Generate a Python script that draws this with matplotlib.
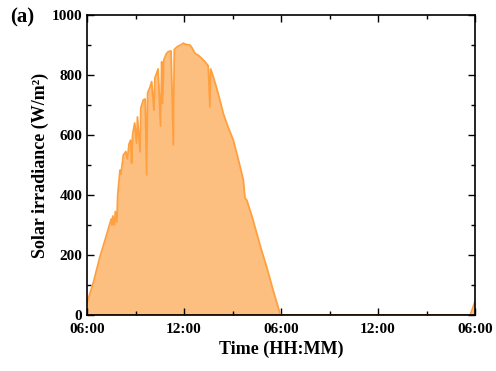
import matplotlib
matplotlib.use("Agg")
import matplotlib.pyplot as plt
from matplotlib.ticker import MultipleLocator

# Data (hours since midnight, irradiance in W/m2)
hours = [6.0, 6.4, 6.8, 7.2, 7.5, 7.55, 7.6, 7.7, 7.75, 7.85, 7.9, 8.04, 8.1, 8.25,
         8.4, 8.5, 8.6, 8.7, 8.76, 8.82, 8.95, 9.07, 9.12, 9.28, 9.33, 9.48, 9.6,
         9.69, 9.75, 9.9, 10.0, 10.14, 10.2, 10.4, 10.55, 10.62, 10.68, 10.75,
         10.9, 11.03, 11.2, 11.34, 11.4, 11.6, 11.8, 11.96, 12.1, 12.37, 12.5,
         12.68, 12.9, 13.1, 13.3, 13.5, 13.6, 13.65, 13.81, 14.0, 14.2, 14.43,
         14.7, 15.05, 15.4, 15.67, 15.77, 15.88, 16.2, 16.5, 16.8, 17.11, 17.5,
         17.94, 18.0, 29.7, 30.0]
irradiance = [40, 110, 194, 265, 320, 300, 330, 300, 345, 310, 400, 483, 470, 533,
              545, 520, 570, 583, 506, 600, 640, 573, 660, 544, 690, 717, 720,
              467, 740, 760, 778, 683, 790, 820, 630, 844, 706, 850,
              870, 878, 880, 567, 885, 895, 900, 906, 902, 900, 890,
              872, 865, 855, 844, 830, 694, 820, 794, 760, 720, 672,
              630, 583, 510, 450, 390, 383, 330, 272, 215, 161, 85,
              5, 0, 0, 45]

tick_hours = [6, 12, 18, 24, 30]
tick_labels = ['06:00', '12:00', '06:00', '12:00', '06:00']

plt.rcParams['font.family'] = ['Liberation Serif', 'DejaVu Serif']
plt.rcParams['font.weight'] = 'bold'

fig = plt.figure(figsize=(4.96, 3.71), dpi=100)
ax = fig.add_axes([0.1754, 0.1509, 0.7823, 0.8087])

ax.fill_between(hours, irradiance, 0, color='#FDBF80', linewidth=0)
ax.plot(hours, irradiance, color='#FFA040', linewidth=1.3)
ax.axhline(0, color='#C8651B', linewidth=1.2)

ax.set_xlim(6, 30)
ax.set_ylim(0, 1000)
ax.set_xticks(tick_hours)
ax.set_xticklabels(tick_labels)
ax.xaxis.set_minor_locator(MultipleLocator(3))
ax.yaxis.set_major_locator(MultipleLocator(200))
ax.yaxis.set_minor_locator(MultipleLocator(100))

ax.tick_params(which='both', direction='in', top=True, right=True,
               labelsize=11, width=1)
ax.tick_params(which='major', length=5)
ax.tick_params(which='minor', length=3)
ax.tick_params(axis='x', pad=6)
for lab in ax.get_xticklabels() + ax.get_yticklabels():
    lab.set_fontweight('bold')
for sp in ax.spines.values():
    sp.set_linewidth(1.2)

ax.set_xlabel('Time (HH:MM)', fontsize=13, fontweight='bold', labelpad=3)
ax.set_ylabel('Solar irradiance (W/m²)', fontsize=13, fontweight='bold', labelpad=2)
fig.text(0.02, 0.98, '(a)', fontsize=15, fontweight='bold', va='top', ha='left')

fig.savefig('out.png', dpi=100)
